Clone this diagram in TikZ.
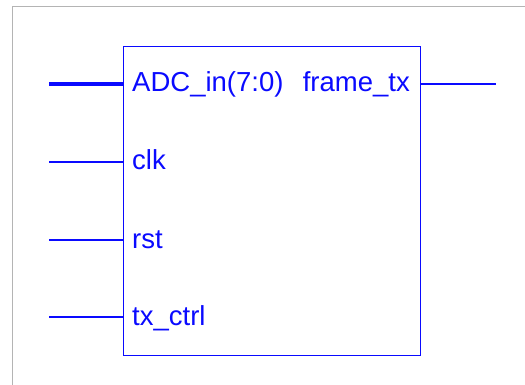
\documentclass[tikz,border=0pt]{standalone}
\usepackage{fontspec}
\setmainfont{Liberation Sans}
\usepackage{xcolor}
\usetikzlibrary{positioning,calc}
\definecolor{portblue}{RGB}{10,10,255}
\definecolor{framegray}{RGB}{180,180,180}

\begin{document}
\begin{tikzpicture}[x=1pt, y=-1pt,
    every node/.style={font=\fontsize{27.5}{32}\selectfont, text=portblue, inner sep=0pt},
    wire/.style={draw=portblue, line width=1.1pt},
    buswire/.style={draw=portblue, line width=3.5pt}]
  \useasboundingbox (0,0) rectangle (525,385);
  \draw[framegray, line width=1pt] (12,385) -- (12,7) -- (525,7);
  \node[draw=portblue, line width=1.1pt, minimum width=297pt, minimum height=309pt,
    anchor=north west] (blk) at (123,46) {};
  \node[anchor=base west] (adcin) at (132,92) {ADC\_in(7:0)};
  \node[anchor=base west] (clk) at (132,170) {clk};
  \node[anchor=base west] (rst) at (132,248) {rst};
  \node[anchor=base west] (txctrl) at (132,325) {tx\_ctrl};
  \node[anchor=base east] (frametx) at (410,92) {frame\_tx};
  \coordinate (adcend) at (49,84);
  \coordinate (clkend) at (49,162);
  \coordinate (rstend) at (49,240);
  \coordinate (txctrlend) at (49,317);
  \coordinate (frameend) at (496,84);
  \draw[buswire] (adcend) -- (adcend -| blk.west);
  \draw[wire] (clkend) -- (clkend -| blk.west);
  \draw[wire] (rstend) -- (rstend -| blk.west);
  \draw[wire] (txctrlend) -- (txctrlend -| blk.west);
  \draw[wire] (blk.east |- frameend) -- (frameend);
\end{tikzpicture}
\end{document}
